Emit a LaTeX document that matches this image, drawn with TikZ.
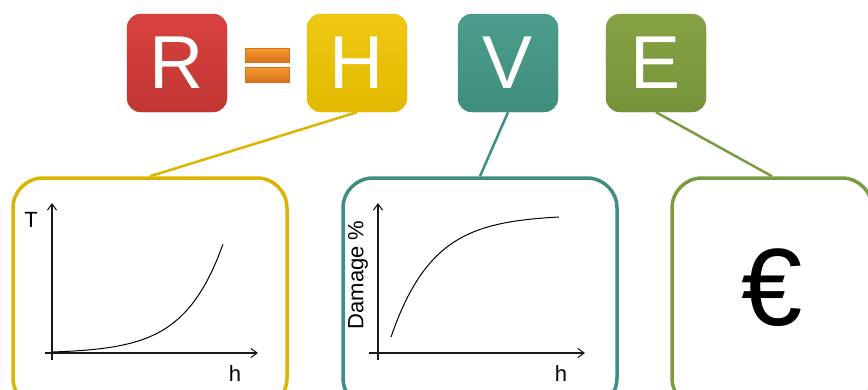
\documentclass[tikz,border=0pt]{standalone}
\usepackage{fontspec}
\setmainfont{Liberation Sans}
\usepackage{xcolor}
\usetikzlibrary{arrows.meta, positioning}

\definecolor{rred}{HTML}{D9433F}
\definecolor{rredd}{HTML}{C03532}
\definecolor{hyel}{HTML}{F0C812}
\definecolor{hyeld}{HTML}{E2B800}
\definecolor{vteal}{HTML}{4C9D8D}
\definecolor{vteald}{HTML}{3F8D7D}
\definecolor{egrn}{HTML}{86A244}
\definecolor{egrnd}{HTML}{76933A}
\definecolor{eqor}{HTML}{F29A34}
\definecolor{eqord}{HTML}{D8721A}
\definecolor{hline}{HTML}{DDB400}
\definecolor{vline}{HTML}{3F8E7F}
\definecolor{eline}{HTML}{7B9B42}

\begin{document}
\begin{tikzpicture}[
    x=1pt, y=1pt,
    letter/.style={rectangle, rounded corners=14pt, minimum width=100pt, minimum height=98pt, inner sep=0pt, align=center, text=white, font=\fontsize{75}{75}\selectfont},
    bar/.style={rectangle, minimum width=44pt, minimum height=14.5pt, inner sep=0pt, top color=eqor, bottom color=eqord, draw=eqord, line width=0.6pt},
    panel/.style={rectangle, rounded corners=30pt, minimum height=230pt, line width=3.5pt, fill=white},
    link/.style={line width=2.5pt},
    axis/.style={line width=1.1pt, black!90, -{Straight Barb[length=2.2mm, width=3.2mm]}},
    lbl/.style={font=\fontsize{22}{22}\selectfont},
]
\useasboundingbox (0,0) rectangle (868,-389);
\clip (0,0) rectangle (868,-389);

% Top boxes
\node[letter, top color=rred, bottom color=rredd, draw=rredd] (rbox) at (177,-63) {R};
\node[letter, top color=hyel, bottom color=hyeld, draw=hyeld] (hbox) at (357,-63) {H};
\node[letter, top color=vteal, bottom color=vteald, draw=vteald] (vbox) at (508,-63) {V};
\node[letter, top color=egrn, bottom color=egrnd, draw=egrnd] (ebox) at (656,-63) {E};

% Equals sign
\node[bar] (eqtop) at (267,-55.5) {};
\node[bar] (eqbot) at (267,-75) {};

% Panels
\node[panel, draw=hline, minimum width=274pt] (hpanel) at (150,-293) {};
\node[panel, draw=vline, minimum width=274pt] (vpanel) at (480,-293) {};
\node[panel, draw=eline, minimum width=200pt] (epanel) at (772,-293) {};

% Connectors
\draw[link, hline] (hbox.south) -- (hpanel.north);
\draw[link, vline] (vbox.south) -- (vpanel.north);
\draw[link, eline] (ebox.south) -- (epanel.north);

% Hazard chart
\draw[axis] (52,-360) -- (52,-203);
\draw[axis] (45,-353) -- (258,-353);
\draw[line width=1pt] plot[domain=0:1, samples=60, smooth] ({52+171*\x},{-(352-108*(exp(4.4*\x)-1)/(exp(4.4)-1))});
\node[lbl] (tlab) at (31,-220) {T};
\node[lbl] (hlab1) at (235,-374) {h};

% Vulnerability chart
\draw[axis] (378,-360) -- (378,-203);
\draw[axis] (369,-353) -- (585,-353);
\draw[line width=1pt] plot[domain=0:1, samples=60, smooth] ({391+168*\x},{-(337-120*(1-exp(-4*\x))/(1-exp(-4)))});
\node[lbl, rotate=90] (dlab) at (358,-275) {Damage \%};
\node[lbl] (hlab2) at (561,-374) {h};

% Exposure
\node[font=\fontsize{110}{110}\selectfont] (euro) at (772,-288) {€};

\end{tikzpicture}
\end{document}
